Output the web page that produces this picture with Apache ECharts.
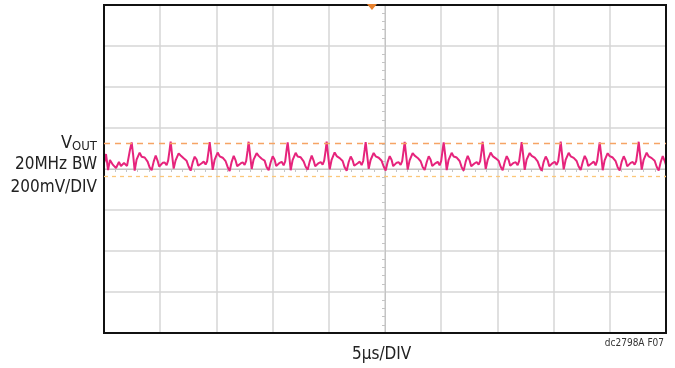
<!DOCTYPE html>
<html>
<head>
<meta charset="utf-8">
<script src="https://cdn.jsdelivr.net/npm/echarts@6/dist/echarts.min.js"></script>
<style>
html, body { margin: 0; padding: 0; background: #fff; }
#chart { width: 675px; height: 368px; }
</style>
</head>
<body>
<div id="chart"></div>
<script>
// scope screen: 10 div x 5us, 8 div x 200mV
var timeRange = [0, 50]
var voltRange = [-800, 800]
var cursorHigh = 127
var cursorLow = -34
var triggerTime = 23.84

// [time us, Vout mV]
var trace = [
	[0.00, 30], [0.09, 44], [0.18, 73], [0.36, -5], [0.53, 44], [0.80, 20], [1.07, 5], [1.33, 34], [1.51, 15], [1.78, 29], [2.05, 15], [2.31, 93],
	[2.46, 130], [2.59, 70], [2.73, -8], [2.90, 46], [3.17, 80], [3.35, 60], [3.62, 56], [3.88, 36], [4.06, 8], [4.24, -6], [4.42, 36], [4.60, 66], [4.77, 40], [4.91, 12], [5.04, 16], [5.22, 30], [5.40, 32], [5.57, 18], [5.71, 42], [5.84, 95],
	[5.93, 134], [6.06, 66], [6.20, 2], [6.37, 42], [6.64, 76], [6.82, 66], [7.09, 52], [7.35, 40], [7.53, 12], [7.71, -8], [7.89, 32], [8.07, 60], [8.24, 46], [8.38, 16], [8.51, 14], [8.69, 28], [8.87, 36], [9.04, 22], [9.18, 38], [9.31, 90],
	[9.40, 131], [9.53, 72], [9.67, -4], [9.84, 44], [10.11, 80], [10.29, 62], [10.56, 55], [10.82, 38], [11.00, 10], [11.18, -10], [11.36, 35], [11.54, 64], [11.71, 42], [11.85, 14], [11.98, 18], [12.16, 27], [12.34, 33], [12.51, 20], [12.65, 40], [12.78, 92],
	[12.87, 133], [13.00, 68], [13.14, 0], [13.31, 46], [13.58, 77], [13.76, 64], [14.03, 50], [14.29, 41], [14.47, 9], [14.65, -6], [14.83, 33], [15.01, 62], [15.18, 45], [15.32, 15], [15.45, 13], [15.63, 30], [15.81, 35], [15.98, 18], [16.12, 37], [16.25, 94],
	[16.34, 130], [16.47, 70], [16.61, -6], [16.78, 43], [17.05, 79], [17.23, 61], [17.50, 57], [17.76, 37], [17.94, 11], [18.12, -4], [18.30, 36], [18.48, 65], [18.65, 41], [18.79, 13], [18.92, 17], [19.10, 29], [19.28, 34], [19.45, 21], [19.59, 41], [19.72, 91],
	[19.81, 134], [19.94, 67], [20.08, -2], [20.25, 45], [20.52, 81], [20.70, 63], [20.97, 53], [21.23, 39], [21.41, 8], [21.59, -9], [21.77, 34], [21.95, 61], [22.12, 43], [22.26, 16], [22.39, 15], [22.57, 28], [22.75, 36], [22.92, 19], [23.06, 39], [23.19, 93],
	[23.28, 131], [23.41, 69], [23.55, 1], [23.72, 44], [23.99, 78], [24.17, 62], [24.44, 55], [24.70, 40], [24.88, 12], [25.06, -7], [25.24, 35], [25.42, 63], [25.59, 44], [25.73, 14], [25.86, 16], [26.04, 31], [26.22, 33], [26.39, 20], [26.53, 38], [26.66, 92],
	[26.75, 132], [26.88, 68], [27.02, -3], [27.19, 42], [27.46, 77], [27.64, 65], [27.91, 54], [28.17, 38], [28.35, 10], [28.53, -5], [28.71, 33], [28.89, 62], [29.06, 45], [29.20, 15], [29.33, 14], [29.51, 29], [29.69, 35], [29.86, 18], [30.00, 40], [30.13, 94],
	[30.22, 130], [30.35, 71], [30.49, -5], [30.66, 45], [30.93, 79], [31.11, 61], [31.38, 56], [31.64, 39], [31.82, 9], [32.00, -8], [32.18, 36], [32.36, 64], [32.53, 42], [32.67, 13], [32.80, 17], [32.98, 28], [33.16, 34], [33.33, 21], [33.47, 39], [33.60, 91],
	[33.69, 133], [33.82, 67], [33.96, 0], [34.13, 43], [34.40, 80], [34.58, 63], [34.85, 52], [35.11, 40], [35.29, 11], [35.47, -6], [35.65, 34], [35.83, 63], [36.00, 44], [36.14, 16], [36.27, 15], [36.45, 30], [36.63, 33], [36.80, 19], [36.94, 40], [37.07, 93],
	[37.16, 131], [37.29, 69], [37.43, -4], [37.60, 46], [37.87, 78], [38.05, 64], [38.32, 55], [38.58, 37], [38.76, 10], [38.94, -9], [39.12, 35], [39.30, 61], [39.47, 43], [39.61, 14], [39.74, 16], [39.92, 29], [40.10, 35], [40.27, 20], [40.41, 38], [40.54, 92],
	[40.63, 134], [40.76, 68], [40.90, -2], [41.07, 44], [41.34, 79], [41.52, 62], [41.79, 54], [42.05, 39], [42.23, 12], [42.41, -5], [42.59, 34], [42.77, 64], [42.94, 45], [43.08, 15], [43.21, 14], [43.39, 28], [43.57, 36], [43.74, 18], [43.88, 41], [44.01, 94],
	[44.10, 130], [44.23, 70], [44.37, -6], [44.54, 42], [44.81, 77], [44.99, 63], [45.26, 56], [45.52, 38], [45.70, 9], [45.88, -7], [46.06, 36], [46.24, 62], [46.41, 42], [46.55, 13], [46.68, 17], [46.86, 30], [47.04, 34], [47.21, 21], [47.35, 39], [47.48, 91],
	[47.57, 133], [47.70, 68], [47.84, -3], [48.01, 45], [48.28, 80], [48.46, 61], [48.73, 53], [48.99, 40], [49.17, 11], [49.35, -8], [49.53, 34], [49.71, 63], [49.88, 40], [50.00, 20]
]

var fontName = "'Liberation Sans Narrow', 'DejaVu Sans Condensed', 'Liberation Sans', sans-serif"
var gridColor = '#d6d6d6'
var textColor = '#222'

var mychart = echarts.init(document.getElementById('chart'))
var option = {
	animation: false,
	backgroundColor: '#fff',
	grid: {
		left: 104, right: 9, top: 5, bottom: 35,
		show: true,
		borderColor: '#111',
		borderWidth: 2,
		z: 5
	},
	xAxis: [{
		type: 'value',
		min: timeRange[0], max: timeRange[1], interval: 5,
		axisLine: { onZero: true, lineStyle: { color: '#c4c4c4', width: 1 } },
		axisTick: { show: false },
		minorTick: { show: true, splitNumber: 5, length: 3, lineStyle: { color: '#c4c4c4' } },
		axisLabel: { show: false },
		splitLine: { showMinLine: false, showMaxLine: false, lineStyle: { color: gridColor, width: 1.5 } }
	}],
	yAxis: [{
		type: 'value',
		min: voltRange[0], max: voltRange[1], interval: 200,
		axisLine: { show: false },
		axisTick: { show: false },
		axisLabel: { show: false },
		splitLine: { showMinLine: false, showMaxLine: false, lineStyle: { color: gridColor, width: 1.5 } }
	}, {
		type: 'value',
		position: 'left',
		offset: -281,
		min: voltRange[0], max: voltRange[1], interval: 200,
		axisLine: { show: true, lineStyle: { color: '#c4c4c4', width: 1 } },
		axisTick: { show: false },
		minorTick: { show: true, splitNumber: 5, length: 3, lineStyle: { color: '#c4c4c4' } },
		axisLabel: { show: false },
		splitLine: { show: false }
	}],
	series: [{
		type: 'line',
		data: trace,
		showSymbol: false,
		smooth: false,
		lineStyle: { color: '#e6247c', width: 2 },
		markLine: {
			silent: true,
			symbol: 'none',
			label: { show: false },
			data: [
				{ yAxis: cursorHigh, lineStyle: { color: '#f6a464', type: [6, 5], width: 1.3 } },
				{ yAxis: cursorLow, lineStyle: { color: '#fbc77a', type: [4, 4], width: 1.3 } }
			]
		},
		markPoint: {
			silent: true,
			symbol: 'triangle',
			symbolSize: [10, 6],
			symbolRotate: 180,
			symbolOffset: [0, 2],
			label: { show: false },
			itemStyle: { color: '#e8812c' },
			data: [{ coord: [triggerTime, voltRange[1]] }]
		}
	}],
	graphic: [{
		type: 'text',
		right: 578, top: 134,
		style: {
			text: '{v|V}{s|OUT}',
			rich: {
				v: { fontSize: 18, fontFamily: fontName, fill: textColor },
				s: { fontSize: 13, fontFamily: fontName, fill: textColor, padding: [7, 0, 0, 0] }
			}
		}
	}, {
		type: 'text',
		right: 578, top: 156,
		style: { text: '20MHz BW', font: '17px ' + fontName, fill: textColor }
	}, {
		type: 'text',
		right: 578, top: 179,
		style: { text: '200mV/DIV', font: '17px ' + fontName, fill: textColor }
	}, {
		type: 'text',
		left: 352, top: 346,
		style: { text: '5µs/DIV', font: '17px ' + fontName, fill: textColor }
	}, {
		type: 'text',
		right: 11, top: 338,
		style: { text: 'dc2798A F07', font: '10px ' + fontName, fill: '#333' }
	}]
}
mychart.setOption(option)
</script>
</body>
</html>
